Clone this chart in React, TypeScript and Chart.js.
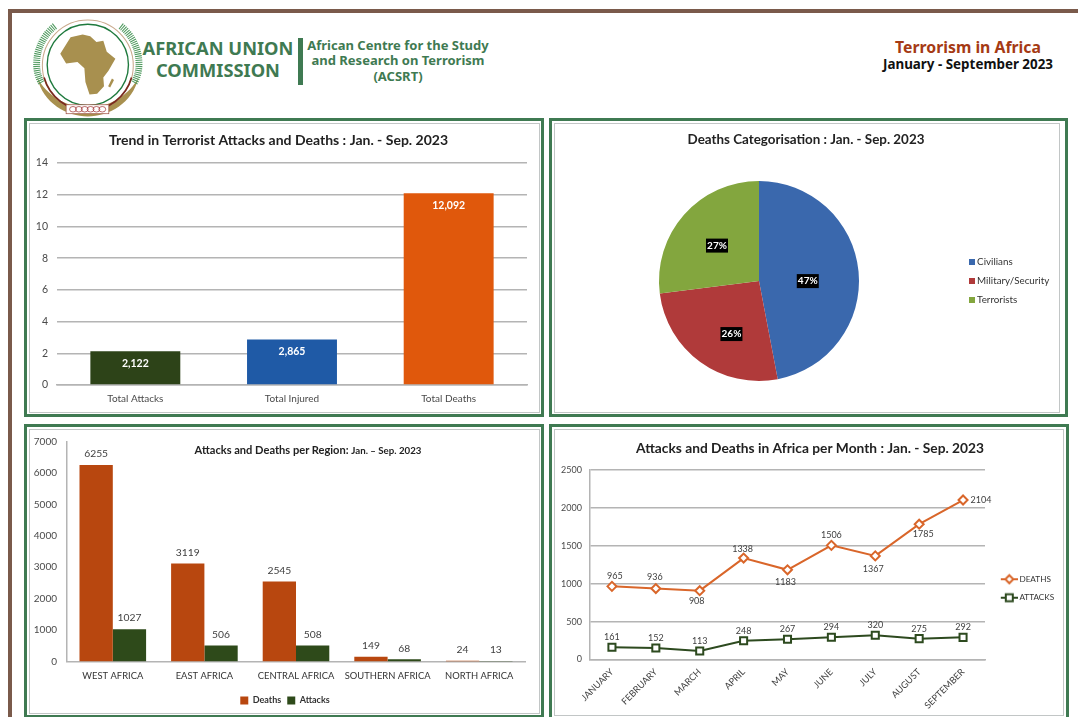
import React, { useEffect, useRef } from "react";
import { Chart, registerables } from "chart.js";

Chart.register(...registerables);

const totalCategories = ["Total Attacks", "Total Injured", "Total Deaths"];
const totalValues = [2.122, 2.865, 12.092];
const totalLabels = ["2,122", "2,865", "12,092"];

const pieCategories = ["Civilians", "Military/Security", "Terrorists"];
const pieValues = [47, 26, 27];

const regions = ["WEST AFRICA", "EAST AFRICA", "CENTRAL AFRICA", "SOUTHERN AFRICA", "NORTH AFRICA"];
const regionDeaths = [6255, 3119, 2545, 149, 24];
const regionAttacks = [1027, 506, 508, 68, 13];

const months = ["JANUARY", "FEBRUARY", "MARCH", "APRIL", "MAY", "JUNE", "JULY", "AUGUST", "SEPTEMBER"];
const monthDeaths = [965, 936, 908, 1338, 1183, 1506, 1367, 1785, 2104];
const monthAttacks = [161, 152, 113, 248, 267, 294, 320, 275, 292];

const deathLabelNudge = [[3, -10], [-1, -11], [-3, 10], [-1, -9], [-2, 12], [0, -10], [-2, 13], [4, 10], [18, 0]];
const pieLabelNudge = [[-3, 5], [3, 11], [-3, -1]];

const GREEN = "#3f7a52";
const FONT = "Lato";
const GRID = "#b4b4b4";
const TICK = "#4a4a4a";

const fixW = (w: number) => (s: any) => { s.width = w; s.paddingTop = 0; s.paddingBottom = 0; };
const fixH = (h: number) => (s: any) => { s.height = h; s.paddingLeft = 0; s.paddingRight = 0; };

function swatch(color: string, size: number) {
  const c = document.createElement("canvas");
  c.width = size; c.height = size;
  const x = c.getContext("2d")!;
  x.fillStyle = color;
  x.fillRect(0, 0, size, size);
  return c;
}

function lineKey(color: string, kind: "diamond" | "square") {
  const c = document.createElement("canvas");
  c.width = 25; c.height = 12;
  const x = c.getContext("2d")!;
  x.strokeStyle = color; x.lineWidth = 2;
  x.beginPath(); x.moveTo(8, 6); x.lineTo(25, 6); x.stroke();
  x.fillStyle = "#fff";
  x.beginPath();
  if (kind === "diamond") {
    x.moveTo(16.5, 2); x.lineTo(20.5, 6); x.lineTo(16.5, 10); x.lineTo(12.5, 6); x.closePath();
  } else {
    x.rect(13, 2.5, 7, 7);
  }
  x.fill(); x.stroke();
  return c;
}

export default function App() {
  const a = useRef<HTMLCanvasElement>(null);
  const b = useRef<HTMLCanvasElement>(null);
  const c = useRef<HTMLCanvasElement>(null);
  const d = useRef<HTMLCanvasElement>(null);

  useEffect(() => {
    const barInside = {
      id: "barInside",
      afterDatasetsDraw(chart: any) {
        const ctx = chart.ctx;
        ctx.save();
        ctx.font = `bold 10.5px ${FONT}`;
        ctx.fillStyle = "#fff";
        ctx.textAlign = "center";
        ctx.textBaseline = "middle";
        chart.getDatasetMeta(0).data.forEach((el: any, i: number) => {
          ctx.fillText(totalLabels[i], el.x, el.y + 12);
        });
        ctx.restore();
      },
    };
    const pieLabels = {
      id: "pieLabels",
      afterDatasetsDraw(chart: any) {
        const ctx = chart.ctx;
        const total = pieValues.reduce((p, q) => p + q, 0);
        ctx.save();
        ctx.font = `bold 10px ${FONT}`;
        ctx.textAlign = "center";
        ctx.textBaseline = "middle";
        chart.getDatasetMeta(0).data.forEach((el: any, i: number) => {
          const mid = (el.startAngle + el.endAngle) / 2;
          const x = el.x + Math.cos(mid) * 52 + pieLabelNudge[i][0];
          const y = el.y + Math.sin(mid) * 52 + pieLabelNudge[i][1];
          ctx.fillStyle = "#000";
          ctx.fillRect(x - 11, y - 7, 22, 14);
          ctx.fillStyle = "#fff";
          ctx.fillText(`${Math.round((pieValues[i] / total) * 100)}%`, x, y);
        });
        ctx.restore();
      },
    };
    const regionLabels = {
      id: "regionLabels",
      afterDatasetsDraw(chart: any) {
        const ctx = chart.ctx;
        ctx.save();
        ctx.font = `10.3px ${FONT}`;
        ctx.fillStyle = "#404040";
        ctx.textAlign = "center";
        ctx.textBaseline = "middle";
        chart.data.datasets.forEach((ds: any, k: number) => {
          chart.getDatasetMeta(k).data.forEach((el: any, i: number) => {
            ctx.fillText(String(ds.data[i]), el.x, el.y - 11);
          });
        });
        ctx.restore();
      },
    };
    const monthLabels = {
      id: "monthLabels",
      afterDatasetsDraw(chart: any) {
        const ctx = chart.ctx;
        ctx.save();
        ctx.font = `9px ${FONT}`;
        ctx.fillStyle = "#404040";
        ctx.textAlign = "center";
        ctx.textBaseline = "middle";
        chart.getDatasetMeta(0).data.forEach((el: any, i: number) => {
          ctx.fillText(String(monthDeaths[i]), el.x + deathLabelNudge[i][0], el.y + deathLabelNudge[i][1]);
        });
        chart.getDatasetMeta(1).data.forEach((el: any, i: number) => {
          ctx.fillText(String(monthAttacks[i]), el.x, el.y - 10);
        });
        ctx.restore();
      },
    };

    const charts = [
      new Chart(a.current!, {
        type: "bar",
        data: {
          labels: totalCategories,
          datasets: [{
            label: "Total",
            data: totalValues,
            backgroundColor: ["#2d4318", "#1f5aa6", "#e0580c"],
            categoryPercentage: 1,
            barPercentage: 0.574,
          }],
        },
        options: {
          responsive: false,
          animation: false,
          layout: { padding: { right: 13 } },
          plugins: {
            legend: { display: false },
            tooltip: { enabled: false },
            title: {
              display: true,
              text: "Trend in Terrorist Attacks and Deaths : Jan. - Sep. 2023",
              color: "#222",
              font: { family: FONT, size: 14, weight: "bold" },
              padding: { top: 8.6, bottom: 14.6 },
            },
          },
          scales: {
            x: {
              afterFit: fixH(27),
              grid: { display: false, drawTicks: false },
              border: { color: GRID, width: 1.5 },
              ticks: { color: TICK, font: { family: FONT, size: 10 }, padding: 8, maxRotation: 0 },
            },
            y: {
              min: 0, max: 14,
              afterFit: fixW(27),
              grid: { color: GRID, lineWidth: 1.5, drawTicks: false },
              border: { display: false },
              ticks: { stepSize: 2, color: TICK, font: { family: FONT, size: 10.5 }, padding: 9 },
            },
          },
        },
        plugins: [barInside],
      } as any),
      new Chart(b.current!, {
        type: "pie",
        data: {
          labels: pieCategories,
          datasets: [{
            data: pieValues,
            backgroundColor: ["#3a68ad", "#b03a3a", "#83a63e"],
            borderWidth: 0,
            radius: 100,
          }],
        },
        options: {
          responsive: false,
          animation: false,
          plugins: {
            tooltip: { enabled: false },
            title: {
              display: true,
              text: "Deaths Categorisation : Jan. - Sep. 2023",
              color: "#222",
              font: { family: FONT, size: 13.4, weight: "bold" },
              padding: { top: 9, bottom: 14.9 },
            },
            legend: {
              position: "right",
              fullSize: false,
              maxWidth: 94,
              labels: {
                color: "#333",
                font: { family: FONT, size: 9.8 },
                padding: 9.2,
                usePointStyle: true,
                pointStyleWidth: 1,
                generateLabels: (chart: any) =>
                  pieCategories.map((t, i) => ({
                    text: t,
                    index: i,
                    hidden: false,
                    lineWidth: 0,
                    fontColor: "#333",
                    pointStyle: swatch(chart.data.datasets[0].backgroundColor[i], 6),
                  })),
              },
            },
          },
        },
        plugins: [pieLabels],
      } as any),
      new Chart(c.current!, {
        type: "bar",
        data: {
          labels: regions,
          datasets: [
            { label: "Deaths", data: regionDeaths, backgroundColor: "#b8470f", categoryPercentage: 0.727, barPercentage: 1 },
            { label: "Attacks", data: regionAttacks, backgroundColor: "#2e4a1a", categoryPercentage: 0.727, barPercentage: 1 },
          ],
        },
        options: {
          responsive: false,
          animation: false,
          layout: { padding: { top: 11.7 } },
          plugins: {
            tooltip: { enabled: false },
            title: { display: false },
            legend: {
              position: "bottom",
              labels: {
                color: "#333",
                font: { family: FONT, size: 9, weight: "bold" },
                boxWidth: 8, boxHeight: 8, padding: 6,
              },
            },
          },
          scales: {
            x: {
              afterFit: fixH(28.6),
              grid: { display: false, drawTicks: false },
              border: { color: GRID, width: 1.5 },
              ticks: { color: "#333", font: { family: FONT, size: 9.4 }, padding: 9, maxRotation: 0, autoSkip: false },
            },
            y: {
              min: 0, max: 7000,
              afterFit: fixW(37),
              grid: { display: false, drawTicks: false },
              border: { color: GRID, width: 1.5 },
              ticks: { stepSize: 1000, color: TICK, font: { family: FONT, size: 10 }, padding: 10, callback: (v: any) => String(v) },
            },
            spacer: {
              position: "right",
              afterFit: fixW(15),
              grid: { display: false, drawTicks: false },
              border: { display: false },
              ticks: { display: false },
            },
          },
        },
        plugins: [regionLabels],
      } as any),
      new Chart(d.current!, {
        type: "line",
        data: {
          labels: months,
          datasets: [
            {
              label: "DEATHS", data: monthDeaths, borderColor: "#d9662a", borderWidth: 2, tension: 0,
              pointStyle: "rectRot", pointRadius: 4.5, pointBorderWidth: 2, pointBackgroundColor: "#fff", pointBorderColor: "#d9662a",
            },
            {
              label: "ATTACKS", data: monthAttacks, borderColor: "#2d4a1f", borderWidth: 2, tension: 0,
              pointStyle: "rect", pointRadius: 5, pointBorderWidth: 2, pointBackgroundColor: "#fff", pointBorderColor: "#2d4a1f",
            },
          ],
        },
        options: {
          responsive: false,
          animation: false,
          plugins: {
            tooltip: { enabled: false },
            title: {
              display: true,
              text: "Attacks and Deaths in Africa per Month : Jan. - Sep. 2023",
              color: "#222",
              font: { family: FONT, size: 13.75, weight: "bold" },
              padding: { top: 10, bottom: 13.5 },
            },
            legend: {
              position: "right",
              maxWidth: 78,
              labels: {
                color: "#333",
                font: { family: FONT, size: 8.2 },
                padding: 10.3,
                usePointStyle: true,
                pointStyleWidth: 20,
                generateLabels: () => [
                  { text: "DEATHS", datasetIndex: 0, hidden: false, lineWidth: 0, fontColor: "#333", pointStyle: lineKey("#d9662a", "diamond") },
                  { text: "ATTACKS", datasetIndex: 1, hidden: false, lineWidth: 0, fontColor: "#333", pointStyle: lineKey("#2d4a1f", "square") },
                ],
              },
            },
          },
          scales: {
            x: {
              afterFit: fixH(87.5),
              offset: true,
              grid: { display: false, drawTicks: false },
              border: { color: GRID, width: 1.5 },
              ticks: { color: "#444", font: { family: FONT, size: 9.2 }, padding: 7, minRotation: 45, maxRotation: 45, autoSkip: false },
            },
            y: {
              min: 0, max: 2500,
              afterFit: fixW(33),
              grid: { color: GRID, lineWidth: 1.5, drawTicks: false },
              border: { color: GRID, width: 1.5 },
              ticks: { stepSize: 500, color: TICK, font: { family: FONT, size: 9 }, padding: 8, callback: (v: any) => String(v) },
            },
          },
        },
        plugins: [monthLabels],
      } as any),
    ];
    return () => charts.forEach((x) => x.destroy());
  }, []);

  const panel = (left: number, top: number, w: number, h: number): React.CSSProperties => ({
    position: "absolute", left, top, width: w, height: h, boxSizing: "border-box",
    border: `3.5px solid ${GREEN}`, background: "#fff",
  });
  const inner = (right: number): React.CSSProperties => ({
    position: "absolute", left: 1.5, top: 1.5, right, bottom: 1.5, border: "1.5px solid #c2c6c6",
  });
  const text = (left: number, top: number, w: number, size: number, color: string, family = "'Noto Sans'"): React.CSSProperties => ({
    position: "absolute", left, top, width: w, textAlign: "center", fontFamily: family, fontWeight: 700,
    fontSize: size, lineHeight: `${Math.round(size * 1.2)}px`, color, whiteSpace: "nowrap",
  });
  const canvasAt = (left: number, top: number): React.CSSProperties => ({ position: "absolute", left, top, display: "block" });

  return (
    <div style={{ position: "absolute", left: 0, top: 0, width: 1078, height: 717, overflow: "hidden", background: "#fff" }}>
      <div style={{ position: "absolute", left: 8, top: 9, width: 1200, height: 900, border: "4px solid #7a5a4b" }} />

      <svg style={{ position: "absolute", left: 0, top: 0 }} width={540} height={130} viewBox="0 0 1568 377">
        <path d="M108 225 C125 300 195 338 255 338 C315 338 385 300 402 225 C375 275 320 312 255 312 C190 312 135 275 108 225 Z" fill="#a8904f" />
        <circle cx="255" cy="190" r="132" fill="none" stroke="#c9a98c" strokeWidth="3" />
        <path d="M128 225 A132 132 0 0 0 382 225" fill="none" stroke="#7a2a1e" strokeWidth="5" />
        <circle cx="255" cy="188" r="118" fill="#fff" stroke="#1f7a3e" strokeWidth="4" />
        <path d="M120 240 C92 190 108 115 160 75" fill="none" stroke="#4f9a5f" strokeWidth="20" strokeDasharray="3 3" />
        <path d="M390 240 C418 190 402 115 350 75" fill="none" stroke="#4f9a5f" strokeWidth="20" strokeDasharray="3 3" />
        <path d="M205 108 L240 100 L262 105 L280 122 L300 118 L310 150 L335 170 L315 205 L300 225 L302 250 L282 272 L260 274 L248 238 L245 198 L225 180 L192 184 L175 156 Z" fill="#a8904f" />
        <path d="M325 228 L331 232 L320 254 L314 250 Z" fill="#a8904f" />
        <rect x="192" y="304" width="124" height="26" fill="#fff" stroke="#9a4a3a" strokeWidth="2" />
        {[0, 1, 2, 3, 4, 5].map((i) => (
          <ellipse key={i} cx={212 + i * 17} cy={317} rx={10} ry={8} fill="none" stroke="#9c2a2a" strokeWidth="2" />
        ))}
      </svg>

      <div style={text(118, 37, 200, 18.3, GREEN)}>AFRICAN UNION</div>
      <div style={text(118, 59, 200, 18.3, GREEN)}>COMMISSION</div>
      <div style={{ position: "absolute", left: 298, top: 38, width: 5, height: 47, background: GREEN }} />
      <div style={text(298, 37, 200, 13, GREEN)}>African Centre for the Study</div>
      <div style={text(298, 52, 200, 13, GREEN)}>and Research on Terrorism</div>
      <div style={text(298, 68, 200, 13, GREEN)}>(ACSRT)</div>
      <div style={text(868, 38, 200, 15.8, "#a53a14")}>Terrorism in Africa</div>
      <div style={text(868, 56, 200, 13.4, "#111")}>January - September 2023</div>

      <div style={panel(24, 118, 520, 299)}><div style={inner(1.5)} /></div>
      <div style={panel(549, 118, 519, 299)}><div style={inner(5)} /></div>
      <div style={panel(24, 424, 520, 294)}><div style={inner(1.5)} /></div>
      <div style={panel(549, 424, 520, 296)}><div style={inner(2)} /></div>

      <canvas ref={a} width={510} height={289} style={canvasAt(30, 123)} />
      <canvas ref={b} width={500} height={276} style={canvasAt(556, 123)} />
      <canvas ref={c} width={510} height={285} style={canvasAt(30, 430)} />
      <canvas ref={d} width={506} height={317} style={canvasAt(557, 430)} />

      <div style={{ position: "absolute", left: 150, top: 443, width: 316, textAlign: "center", fontFamily: FONT, fontWeight: 700, color: "#222", fontSize: 11.1, whiteSpace: "nowrap" }}>
        Attacks and Deaths per Region: <span style={{ fontSize: 9.7 }}>Jan. – Sep. 2023</span>
      </div>
    </div>
  );
}
